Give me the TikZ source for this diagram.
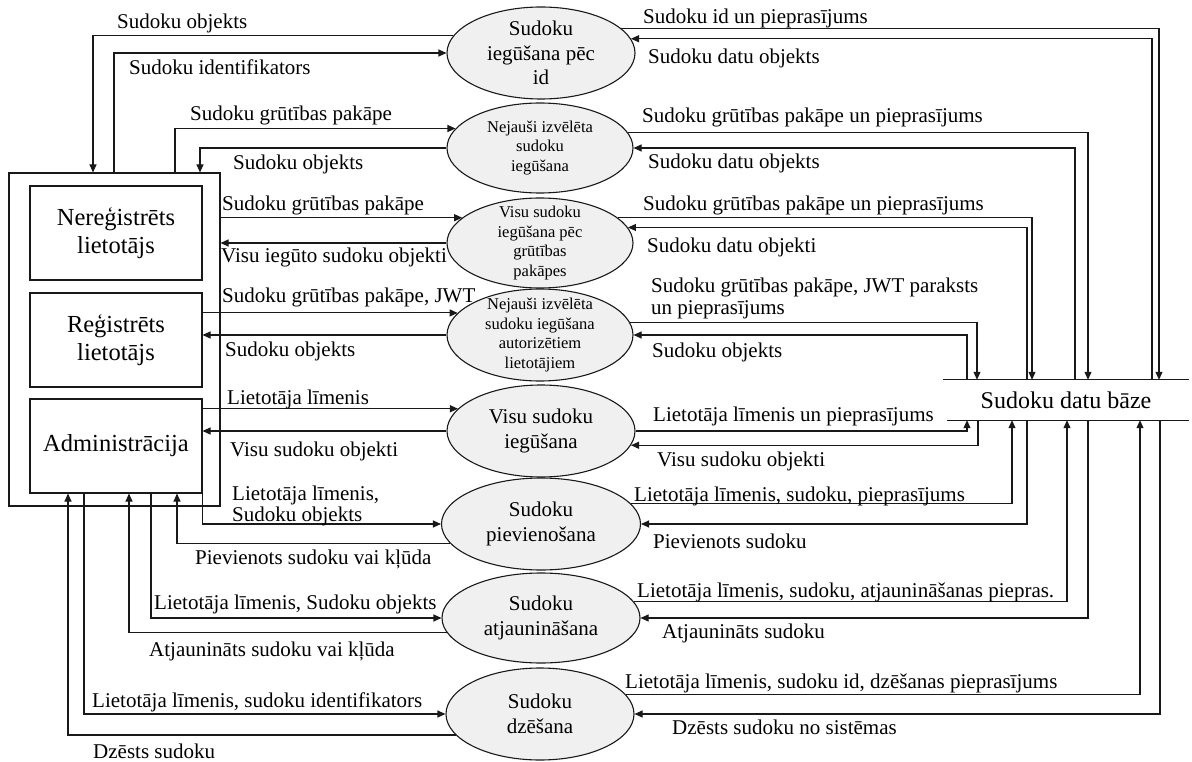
\documentclass[tikz,border=0pt]{standalone}
\usepackage{fontspec}
\setmainfont{Liberation Serif}
\usetikzlibrary{arrows.meta,shapes.geometric}
\definecolor{efill}{RGB}{240,240,240}
\definecolor{lncol}{RGB}{25,25,25}
\begin{document}
\begin{tikzpicture}[x=1pt,y=-1pt,
  proc/.style={ellipse, draw=lncol, line width=1.1pt, fill=efill, inner sep=0pt},
  actor/.style={draw=lncol, line width=1.1pt, inner sep=0pt, align=center, font=\fontsize{24.5}{28}\selectfont},
  arr/.style={draw=lncol, line width=1.1pt, -{Triangle[length=8pt,width=7pt]}},
  plain/.style={draw=lncol, line width=1.1pt},
  lbl/.style={inner sep=0pt, anchor=base west, font=\fontsize{21}{24}\selectfont},
  ebig/.style={align=center, inner sep=0pt, font=\fontsize{21}{24.5}\selectfont},
  esmall/.style={align=center, inner sep=0pt, font=\fontsize{16.5}{19.8}\selectfont}]
\useasboundingbox (0,0) rectangle (1192,762);

% actors
\node[actor, minimum width=211pt, minimum height=333pt] (outer) at (114.5,339.5) {};
\node[actor, minimum width=172pt, minimum height=94pt] (nereg) at (116,233) {Nereģistrēts\\lietotājs};
\node[actor, minimum width=172pt, minimum height=94pt] (reg) at (116,340) {Reģistrēts\\lietotājs};
\node[actor, minimum width=172pt, minimum height=94pt] (admin) at (116,446) {Administrācija};

% processes
\node[proc, minimum width=188pt, minimum height=92pt, label={[ebig]center:{Sudoku\\iegūšana pēc\\id}}] (e1) at (541,53) {};
\node[proc, minimum width=186pt, minimum height=90pt, label={[esmall]center:{Nejauši izvēlēta\\sudoku\\iegūšana}}] (e2) at (540,148) {};
\node[proc, minimum width=186pt, minimum height=90pt, label={[esmall]center:{Visu sudoku\\iegūšana pēc\\grūtības\\pakāpes}}] (e3) at (540,243) {};
\node[proc, minimum width=186pt, minimum height=92pt, label={[esmall]center:{Nejauši izvēlēta\\sudoku iegūšana\\autorizētiem\\lietotājiem}}] (e4) at (540,335) {};
\node[proc, minimum width=188pt, minimum height=92pt, label={[ebig]center:{Visu sudoku\\iegūšana}}] (e5) at (541,431) {};
\node[proc, minimum width=199pt, minimum height=92pt, label={[ebig]center:{Sudoku\\pievienošana}}] (e6) at (541,524) {};
\node[proc, minimum width=198pt, minimum height=90pt, label={[ebig]center:{Sudoku\\atjaunināšana}}] (e7) at (541,618) {};
\node[proc, minimum width=188pt, minimum height=92pt, label={[ebig]center:{Sudoku\\dzēšana}}] (e8) at (540,714) {};

% data store
\node[inner sep=0pt, minimum width=246pt, minimum height=40pt, font=\fontsize{24}{28}\selectfont] (db) at (1066,400) {Sudoku datu bāze};
\draw[plain] (db.north west) -- (db.north east);
\draw[plain] ([xshift=4pt]db.south west) -- (db.south east);

% x positions of vertical runs
\foreach \xx in {68,84,93,114,129,151,175,177,200,967,977,978,1012,1027,1032,1067,1075,1088,1140,1152,1159,1160}
  \coordinate (x\xx) at (\xx,0);

% left side connectors
\draw[arr] (e1.169) -| (outer.north -| x93);
\draw[arr] (outer.north -| x114) |- (e1.west);
\draw[arr] (outer.north -| x175) |- (e2.167);
\draw[arr] (e2.west) -| (outer.north -| x200);
\draw[arr] (outer.east |- e3.162) -- (e3.162);
\draw[arr] (e3.west) -- (e3.west -| outer.east);
\draw[arr] (reg.east |- e4.165) -- (e4.165);
\draw[arr] (e4.west) -- (e4.west -| reg.east);
\draw[arr] (admin.east |- e5.165) -- (e5.165);
\draw[arr] (e5.west) -- (e5.west -| admin.east);
\draw[arr] (admin.south east) |- (e6.west);
\draw[arr] (e6.192) -| (admin.south -| x177);
\draw[arr] (admin.south -| x151) |- (e7.west);
\draw[arr] (e7.189) -| (admin.south -| x129);
\draw[arr] (admin.south -| x84) |- (e8.west);
\draw[arr] (e8.194) -| (admin.south -| x68);

% right side connectors
\draw[arr] (e1.17) -| (db.north -| x1159);
\draw[arr] (db.north -| x1152) |- (e1.9);
\draw[arr] (e2.10) -| (db.north -| x1088);
\draw[arr] (db.north -| x1075) |- (e2.east);
\draw[arr] (e3.18) -| (db.north -| x1032);
\draw[arr] (db.north -| x1027) |- (e3.10);
\draw[arr] (e4.8) -| (db.north -| x977);
\draw[arr] (db.north -| x967) |- (e4.east);
\draw[arr] (e5.east) -| (db.south -| x967);
\draw[arr] (db.south -| x978) |- (e5.351);
\draw[arr] (e6.13) -| (db.south -| x1012);
\draw[arr] (db.south -| x1027) |- (e6.east);
\draw[arr] (e7.10) -| (db.south -| x1067);
\draw[arr] (db.south -| x1088) |- (e7.east);
\draw[arr] (e8.13) -| (db.south -| x1140);
\draw[arr] (db.south -| x1160) |- (e8.east);

% left labels
\node[lbl] (l1) at (117,29) {Sudoku objekts};
\node[lbl] (l2) at (129,75) {Sudoku identifikators};
\node[lbl] (l3) at (190,120.5) {Sudoku grūtības pakāpe};
\node[lbl] (l4) at (233,170) {Sudoku objekts};
\node[lbl] (l5) at (222,211) {Sudoku grūtības pakāpe};
\node[lbl] (l6) at (221,262) {Visu iegūto sudoku objekti};
\node[lbl] (l7) at (222,302) {Sudoku grūtības pakāpe, JWT};
\node[lbl] (l8) at (225,356) {Sudoku objekts};
\node[lbl] (l9) at (227,404) {Lietotāja līmenis};
\node[lbl] (l10) at (230,456) {Visu sudoku objekti};
\node[lbl] (l11a) at (232,500) {Lietotāja līmenis,};
\node[lbl] (l11b) at (232,521) {Sudoku objekts};
\node[lbl] (l12) at (195,564) {Pievienots sudoku vai kļūda};
\node[lbl] (l13) at (154,609) {Lietotāja līmenis, Sudoku objekts};
\node[lbl] (l14) at (149,656) {Atjaunināts sudoku vai kļūda};
\node[lbl] (l15) at (92,707) {Lietotāja līmenis, sudoku identifikators};
\node[lbl] (l16) at (93,758) {Dzēsts sudoku};

% right labels
\node[lbl] (r1) at (643,24) {Sudoku id un pieprasījums};
\node[lbl] (r2) at (648,64) {Sudoku datu objekts};
\node[lbl] (r3) at (642,123) {Sudoku grūtības pakāpe un pieprasījums};
\node[lbl] (r4) at (648,169) {Sudoku datu objekts};
\node[lbl] (r5) at (643,211) {Sudoku grūtības pakāpe un pieprasījums};
\node[lbl] (r6) at (647,253) {Sudoku datu objekti};
\node[lbl] (r7a) at (651,292) {Sudoku grūtības pakāpe, JWT paraksts};
\node[lbl] (r7b) at (651,315) {un pieprasījums};
\node[lbl] (r8) at (652,357) {Sudoku objekts};
\node[lbl] (r9) at (653,421) {Lietotāja līmenis un pieprasījums};
\node[lbl] (r10) at (657,466) {Visu sudoku objekti};
\node[lbl] (r11) at (634,501) {Lietotāja līmenis, sudoku, pieprasījums};
\node[lbl] (r12) at (653,548) {Pievienots sudoku};
\node[lbl] (r13) at (637,597) {Lietotāja līmenis, sudoku, atjaunināšanas piepras.};
\node[lbl] (r14) at (662,638) {Atjaunināts sudoku};
\node[lbl] (r15) at (625,688) {Lietotāja līmenis, sudoku id, dzēšanas pieprasījums};
\node[lbl] (r16) at (672,734) {Dzēsts sudoku no sistēmas};
\end{tikzpicture}
\end{document}
